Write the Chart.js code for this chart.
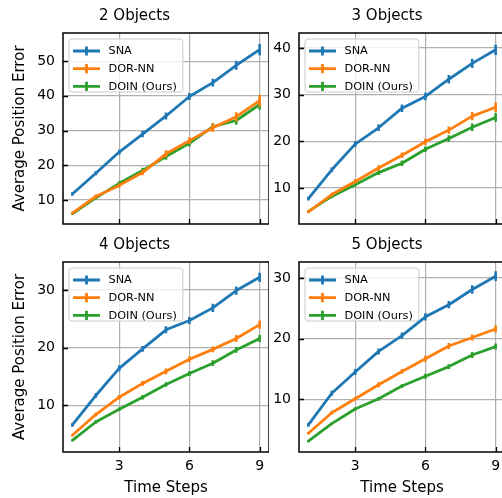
<!DOCTYPE html>
<html>
<head>
<meta charset="utf-8">
<script src="https://cdn.jsdelivr.net/npm/chart.js@4.4.0/dist/chart.umd.min.js"></script>
<style>
html, body { margin: 0; padding: 0; background: #fff; overflow: hidden; width: 502px; height: 498px; }
canvas { position: absolute; }
</style>
</head>
<body>
<canvas id="c1" width="269" height="229" style="left:0;top:0"></canvas>
<canvas id="c2" width="236" height="229" style="left:269px;top:0"></canvas>
<canvas id="c3" width="269" height="269" style="left:0;top:229px"></canvas>
<canvas id="c4" width="236" height="269" style="left:269px;top:229px"></canvas>
<script>
const steps = [1, 2, 3, 4, 5, 6, 7, 8, 9];
const seriesNames = ['SNA', 'DOR-NN', 'DOIN (Ours)'];
const seriesColors = ['#1f77b4', '#ff7f0e', '#2ca02c'];
const xTicks = [3, 6, 9];

// 2 Objects
const sna2 = [11.7, 17.7, 23.8, 29.0, 34.2, 39.8, 43.8, 48.8, 53.3];
const dor2 = [6.2, 11.0, 14.2, 17.9, 23.3, 27.1, 30.8, 34.0, 38.6];
const doin2 = [6.0, 10.6, 14.8, 18.5, 22.5, 26.3, 31.1, 32.9, 37.5];
const sna2Err = [0.5, 0.6, 0.7, 0.9, 1.0, 1.0, 1.1, 1.3, 1.6];
const dor2Err = [0.4, 0.6, 0.6, 0.8, 1.0, 1.0, 1.2, 1.3, 1.7];
const doin2Err = [0.3, 0.5, 0.6, 0.8, 0.9, 0.9, 1.1, 1.2, 1.5];
const yTicks2 = [10, 20, 30, 40, 50];

// 3 Objects
const sna3 = [7.7, 13.9, 19.4, 22.9, 27.1, 29.6, 33.3, 36.7, 39.6];
const dor3 = [4.9, 8.6, 11.4, 14.3, 17.0, 19.9, 22.4, 25.4, 27.3];
const doin3 = [5.0, 8.2, 10.7, 13.3, 15.3, 18.3, 20.6, 23.0, 25.1];
const sna3Err = [0.4, 0.5, 0.6, 0.7, 0.8, 0.8, 0.9, 1.0, 1.1];
const dor3Err = [0.3, 0.4, 0.5, 0.6, 0.6, 0.7, 0.8, 0.9, 1.0];
const doin3Err = [0.3, 0.4, 0.4, 0.5, 0.6, 0.6, 0.7, 0.8, 0.9];
const yTicks3 = [10, 20, 30, 40];

// 4 Objects
const sna4 = [6.6, 11.7, 16.4, 19.8, 23.1, 24.7, 26.9, 29.9, 32.2];
const dor4 = [4.8, 8.4, 11.4, 13.8, 15.9, 18.0, 19.7, 21.6, 24.0];
const doin4 = [3.9, 7.1, 9.3, 11.4, 13.6, 15.5, 17.3, 19.6, 21.6];
const sna4Err = [0.3, 0.4, 0.5, 0.5, 0.6, 0.6, 0.7, 0.7, 0.8];
const dor4Err = [0.2, 0.3, 0.4, 0.4, 0.5, 0.5, 0.5, 0.6, 0.7];
const doin4Err = [0.2, 0.3, 0.3, 0.4, 0.4, 0.4, 0.5, 0.5, 0.6];
const yTicks4 = [10, 20, 30];

// 5 Objects
const sna5 = [5.8, 11.0, 14.5, 17.9, 20.5, 23.6, 25.6, 28.1, 30.3];
const dor5 = [4.4, 7.8, 10.1, 12.4, 14.6, 16.7, 18.8, 20.2, 21.6];
const doin5 = [3.1, 6.0, 8.4, 10.1, 12.2, 13.8, 15.4, 17.3, 18.7];
const sna5Err = [0.3, 0.4, 0.5, 0.5, 0.5, 0.6, 0.6, 0.7, 0.8];
const dor5Err = [0.2, 0.3, 0.3, 0.4, 0.4, 0.5, 0.5, 0.5, 0.6];
const doin5Err = [0.2, 0.2, 0.3, 0.3, 0.3, 0.4, 0.4, 0.5, 0.5];
const yTicks5 = [10, 20, 30];

const panels = [
    { id: 'c1', title: '2 Objects', series: [sna2, dor2, doin2], errors: [sna2Err, dor2Err, doin2Err], yTicks: yTicks2, yMin: 3.08, yMax: 58.1, left: true, bottom: false },
    { id: 'c2', title: '3 Objects', series: [sna3, dor3, doin3], errors: [sna3Err, dor3Err, doin3Err], yTicks: yTicks3, yMin: 2.29, yMax: 43.2, left: false, bottom: false },
    { id: 'c3', title: '4 Objects', series: [sna4, dor4, doin4], errors: [sna4Err, dor4Err, doin4Err], yTicks: yTicks4, yMin: 1.9, yMax: 34.86, left: true, bottom: true },
    { id: 'c4', title: '5 Objects', series: [sna5, dor5, doin5], errors: [sna5Err, dor5Err, doin5Err], yTicks: yTicks5, yMin: 1.32, yMax: 32.64, left: false, bottom: true }
];

Chart.defaults.font.family = "'DejaVu Sans', sans-serif";
Chart.defaults.color = '#000';

// error bars, frame, inward ticks and legend drawn the matplotlib way
function mplPlugin(panel) {
    return {
        id: 'mplLook',
        afterDatasetDraw(chart, args) {
            const ctx = chart.ctx;
            const xs = chart.scales.x, ys = chart.scales.y;
            const i = args.index;
            const vals = panel.series[i], errs = panel.errors[i];
            ctx.save();
            ctx.strokeStyle = seriesColors[i];
            ctx.lineWidth = 2.6;
            ctx.beginPath();
            steps.forEach((s, k) => {
                const px = xs.getPixelForValue(s);
                ctx.moveTo(px, ys.getPixelForValue(vals[k] - errs[k]));
                ctx.lineTo(px, ys.getPixelForValue(vals[k] + errs[k]));
            });
            ctx.stroke();
            ctx.restore();
        },
        afterDraw(chart) {
            const ctx = chart.ctx;
            const a = chart.chartArea;
            const xs = chart.scales.x, ys = chart.scales.y;
            ctx.save();
            // inward ticks
            ctx.strokeStyle = '#000';
            ctx.lineWidth = 1.3;
            ctx.beginPath();
            xTicks.forEach(v => {
                const px = Math.round(xs.getPixelForValue(v)) + 0.5;
                ctx.moveTo(px, a.bottom);
                ctx.lineTo(px, a.bottom - 5);
            });
            panel.yTicks.forEach(v => {
                const py = Math.round(ys.getPixelForValue(v)) + 0.5;
                ctx.moveTo(a.left, py);
                ctx.lineTo(a.left + 5, py);
            });
            ctx.stroke();
            // frame
            ctx.lineWidth = 1.5;
            ctx.strokeRect(a.left, a.top, a.right - a.left, a.bottom - a.top);

            // legend
            ctx.font = "11.3px 'DejaVu Sans'";
            const textW = Math.max(...seriesNames.map(n => ctx.measureText(n).width));
            const bx = a.left + 6, by = a.top + 6;
            const bw = 39.5 + textW + 6, bh = 53;
            ctx.beginPath();
            ctx.roundRect(bx, by, bw, bh, 3);
            ctx.fillStyle = 'rgba(255,255,255,0.8)';
            ctx.fill();
            ctx.strokeStyle = '#cccccc';
            ctx.lineWidth = 1;
            ctx.stroke();
            seriesNames.forEach((name, i) => {
                const ry = by + 12 + 17.7 * i;
                ctx.strokeStyle = seriesColors[i];
                ctx.lineWidth = 2.8;
                ctx.beginPath();
                ctx.moveTo(bx + 4, ry);
                ctx.lineTo(bx + 31, ry);
                ctx.moveTo(bx + 17.5, ry - 4.6);
                ctx.lineTo(bx + 17.5, ry + 4.6);
                ctx.stroke();
                ctx.fillStyle = '#000';
                ctx.textBaseline = 'middle';
                ctx.textAlign = 'left';
                ctx.fillText(name, bx + 39.5, ry + 0.5);
            });
            ctx.restore();
        }
    };
}

function makeChart(panel) {
    const datasets = panel.series.map((vals, i) => ({
        label: seriesNames[i],
        data: steps.map((s, k) => ({ x: s, y: vals[k] })),
        borderColor: seriesColors[i],
        backgroundColor: seriesColors[i],
        borderWidth: 2.8,
        borderJoinStyle: 'round',
        pointRadius: 0,
        tension: 0,
        fill: false
    }));

    const gridStyle = { color: '#b0b0b0', lineWidth: 1.2, drawTicks: false };

    return new Chart(document.getElementById(panel.id), {
        type: 'line',
        data: { datasets },
        options: {
            responsive: false,
            animation: false,
            events: [],
            layout: { padding: 0 },
            plugins: {
                legend: { display: false },
                tooltip: { enabled: false },
                title: {
                    display: true,
                    text: panel.title,
                    font: { size: 15, weight: 'normal' },
                    color: '#000',
                    padding: { top: 6.7, bottom: 8.3 }
                }
            },
            scales: {
                x: {
                    type: 'linear',
                    min: 0.6,
                    max: 9.4,
                    afterBuildTicks: s => { s.ticks = xTicks.map(v => ({ value: v })); },
                    afterFit: s => { s.height = panel.bottom ? 46 : 5; s.paddingLeft = 0; s.paddingRight = 0; },
                    ticks: { display: panel.bottom, font: { size: 14 }, color: '#000', padding: 6, maxRotation: 0, autoSkip: false },
                    grid: gridStyle,
                    border: { display: false },
                    title: { display: panel.bottom, text: 'Time Steps', font: { size: 15 }, color: '#000', padding: { top: 0, bottom: 1 } }
                },
                y: {
                    type: 'linear',
                    min: panel.yMin,
                    max: panel.yMax,
                    afterBuildTicks: s => { s.ticks = panel.yTicks.map(v => ({ value: v })); },
                    afterFit: s => { s.width = panel.left ? 63 : 30; s.paddingTop = 0; s.paddingBottom = 0; },
                    ticks: { font: { size: 14 }, color: '#000', padding: 8 },
                    grid: gridStyle,
                    border: { display: false },
                    title: { display: panel.left, text: 'Average Position Error', font: { size: 15 }, color: '#000', padding: { top: 11.5, bottom: 0 } }
                }
            }
        },
        plugins: [mplPlugin(panel)]
    });
}

panels.forEach(makeChart);
</script>
</body>
</html>
